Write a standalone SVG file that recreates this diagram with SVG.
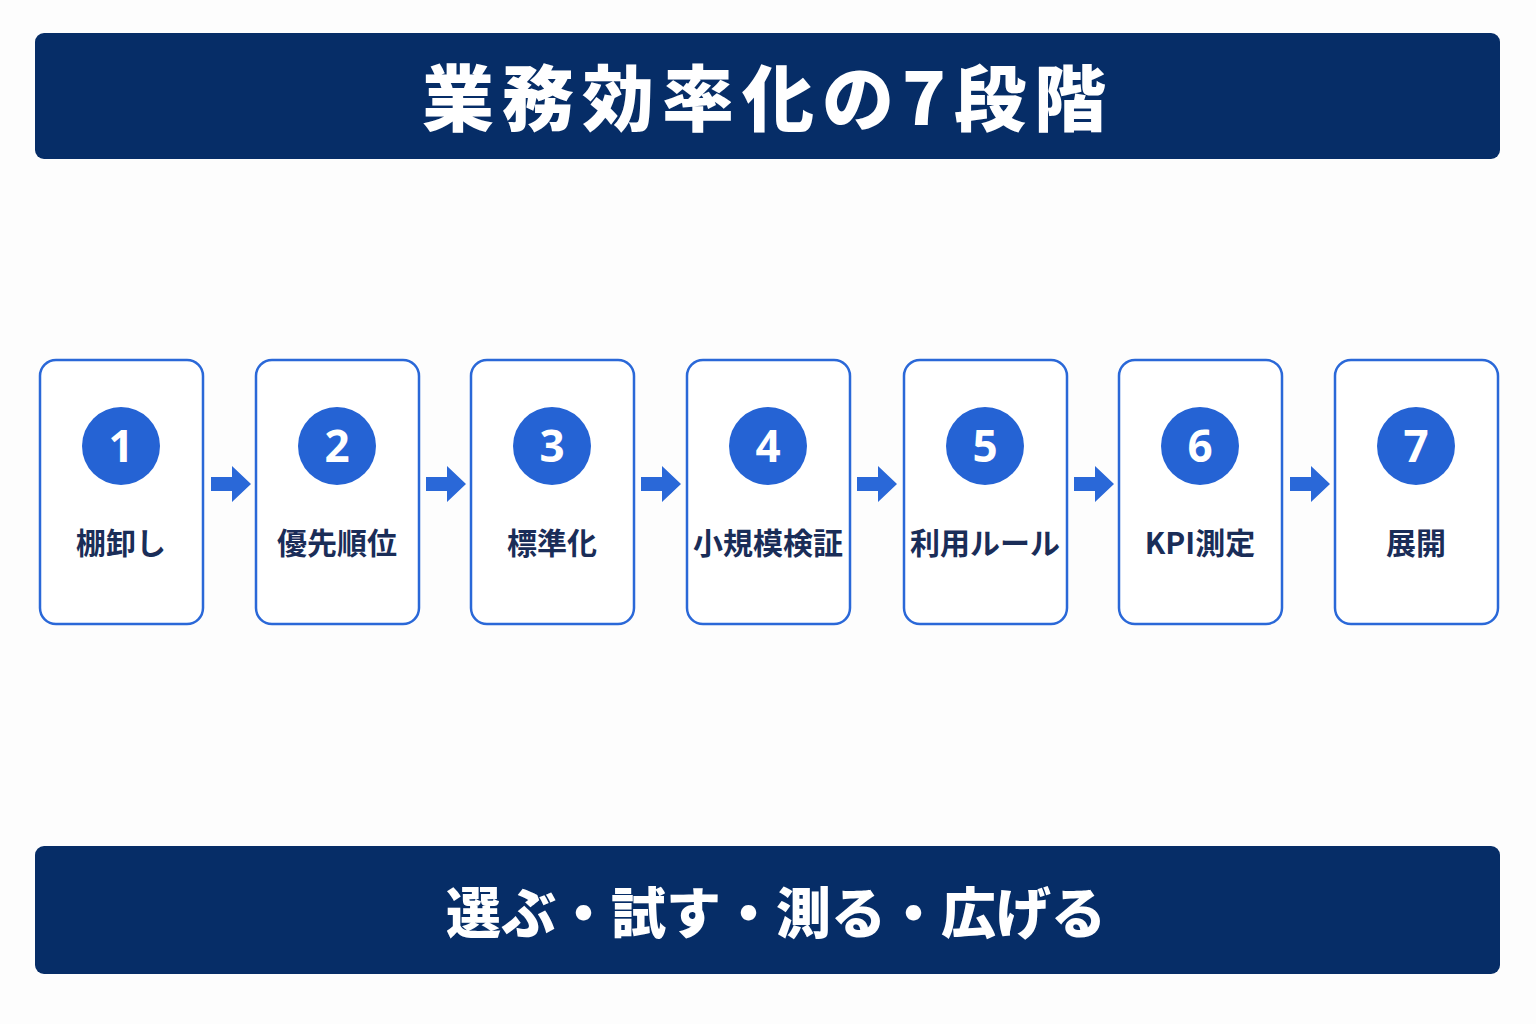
<svg xmlns="http://www.w3.org/2000/svg" width="1536" height="1024" viewBox="0 0 1536 1024">
<defs>
<style>
.band{fill:#062d67}
.box{fill:#ffffff;stroke:#2a68d8;stroke-width:2.5}
.num{fill:#2563d4}
.numt{fill:#ffffff;font-family:"Noto Sans","Liberation Sans",sans-serif;font-weight:700;font-size:44px;text-anchor:middle}
.lbl{fill:#1a2d58;font-family:"Noto Sans CJK JP","Noto Sans",sans-serif;font-weight:700;font-size:30px;text-anchor:middle}
.big{fill:#ffffff;font-family:"Noto Sans CJK JP",sans-serif;font-weight:900;text-anchor:middle}
.arr{fill:#2a68d8}
</style>
</defs>
<rect width="1536" height="1024" fill="#fdfdfd"/>
<g id="header">
<rect class="band" x="35" y="33" width="1465" height="126" rx="9"/>
<text class="big" x="768" y="125" font-size="72" letter-spacing="8">業務効率化の7段階</text>
</g>
<g id="step1">
<rect class="box" x="40" y="360" width="163" height="264" rx="16"/>
<circle class="num" cx="121" cy="446" r="39"/>
<text class="numt" x="121" y="462">1</text>
<text class="lbl" x="121" y="554">棚卸し</text>
</g>
<g id="step2">
<rect class="box" x="256" y="360" width="163" height="264" rx="16"/>
<circle class="num" cx="337" cy="446" r="39"/>
<text class="numt" x="337" y="462">2</text>
<text class="lbl" x="337" y="554">優先順位</text>
</g>
<g id="step3">
<rect class="box" x="471" y="360" width="163" height="264" rx="16"/>
<circle class="num" cx="552" cy="446" r="39"/>
<text class="numt" x="552" y="462">3</text>
<text class="lbl" x="552" y="554">標準化</text>
</g>
<g id="step4">
<rect class="box" x="687" y="360" width="163" height="264" rx="16"/>
<circle class="num" cx="768" cy="446" r="39"/>
<text class="numt" x="768" y="462">4</text>
<text class="lbl" x="768" y="554">小規模検証</text>
</g>
<g id="step5">
<rect class="box" x="904" y="360" width="163" height="264" rx="16"/>
<circle class="num" cx="985" cy="446" r="39"/>
<text class="numt" x="985" y="462">5</text>
<text class="lbl" x="985" y="554">利用ルール</text>
</g>
<g id="step6">
<rect class="box" x="1119" y="360" width="163" height="264" rx="16"/>
<circle class="num" cx="1200" cy="446" r="39"/>
<text class="numt" x="1200" y="462">6</text>
<text class="lbl" x="1200" y="554">KPI測定</text>
</g>
<g id="step7">
<rect class="box" x="1335" y="360" width="163" height="264" rx="16"/>
<circle class="num" cx="1416" cy="446" r="39"/>
<text class="numt" x="1416" y="462">7</text>
<text class="lbl" x="1416" y="554">展開</text>
</g>
<g id="connectors">
<polygon class="arr" points="211,477 232,477 232,466 251,484 232,502 232,491 211,491"/>
<polygon class="arr" points="426,477 447,477 447,466 466,484 447,502 447,491 426,491"/>
<polygon class="arr" points="641,477 662,477 662,466 681,484 662,502 662,491 641,491"/>
<polygon class="arr" points="857,477 878,477 878,466 897,484 878,502 878,491 857,491"/>
<polygon class="arr" points="1074,477 1095,477 1095,466 1114,484 1095,502 1095,491 1074,491"/>
<polygon class="arr" points="1290,477 1311,477 1311,466 1330,484 1311,502 1311,491 1290,491"/>
</g>
<g id="footer">
<rect class="band" x="35" y="846" width="1465" height="128" rx="9"/>
<text class="big" x="776" y="933" font-size="55">選ぶ・試す・測る・広げる</text>
</g>
</svg>
